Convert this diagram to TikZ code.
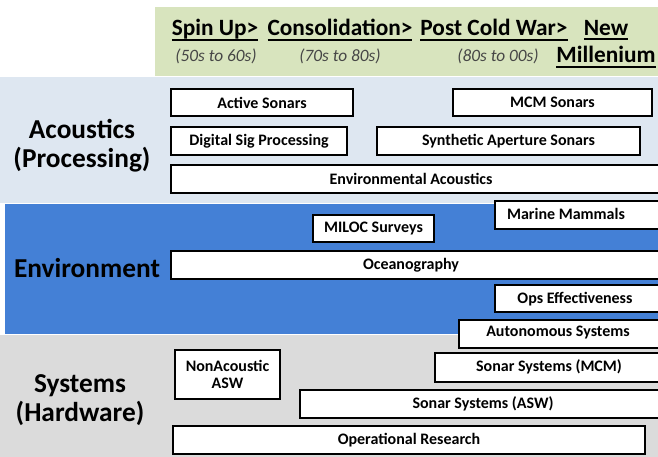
\documentclass[tikz,border=0pt]{standalone}
\usepackage{fontspec}
\setmainfont{Carlito}
\usetikzlibrary{fit}

\definecolor{headgreen}{RGB}{216,228,190}
\definecolor{acoband}{RGB}{222,231,241}
\definecolor{envband}{RGB}{68,128,214}
\definecolor{sysband}{RGB}{219,219,219}
\definecolor{subgray}{RGB}{70,70,70}

\newcommand{\ulbox}[1]{\setbox0\hbox{#1}\rlap{\copy0}\rule[-3.6pt]{\wd0}{1.4pt}}

\tikzset{every picture/.style={line width=0.75pt},
  tbox/.style={draw=black, line width=1.2pt, fill=white, inner sep=0pt},
  tlbl/.style={font=\bfseries\fontsize{12}{13}\selectfont, align=center, inner sep=0pt},
  era/.style={font=\bfseries\fontsize{17.5}{20}\selectfont},
  eradate/.style={font=\itshape\fontsize{13}{15}\selectfont, text=subgray},
  band/.style={font=\bfseries\fontsize{20.5}{22}\selectfont, align=center}}

\begin{document}
\begin{tikzpicture}[x=0.75pt,y=0.75pt,yscale=-1,xscale=1]
\useasboundingbox (0,0) rectangle (658,457);
\clip (0,0) rectangle (658,457);

%Bands
\fill[headgreen] (155,7) rectangle (658,76);
\fill[acoband] (0,77) rectangle (658,203);
\fill[envband] (5,204) rectangle (658,334);
\fill[sysband] (0,335) rectangle (658,457);

% Eras
\node[era] (spin) at (215,30) {\ulbox{Spin Up>}};
\node[era] (cons) at (340,30) {\ulbox{Consolidation>}};
\node[era] (post) at (494,30) {\ulbox{Post Cold War>}};
\node[era] (new) at (606,30) {\ulbox{New}};
\node[era] (mill) at (606,57) {\ulbox{Millenium}};
\node[eradate] (spind) at (216,56) {(50s to 60s)};
\node[eradate] (consd) at (340,56) {(70s to 80s)};
\node[eradate] (postd) at (498,56) {(80s to 00s)};

% Band labels
\node[band] (aco) at (82,146) {Acoustics\\(Processing)};
\node[band] (env) at (87,268) {Environment};
\node[band] (sys) at (80,400) {Systems\\(Hardware)};

%Acoustics boxes
\node[tbox, fit={(171,89) (353,116)}, label={[tlbl]center:Active Sonars}] (actsonar) {};
\node[tbox, fit={(453,89) (652,116)}, label={[tlbl]center:MCM Sonars}] (mcmsonar) {};
\node[tbox, fit={(171,127) (347,155)}, label={[tlbl]center:Digital Sig Processing}] (dsp) {};
\node[tbox, fit={(377,127) (640,155)}, label={[tlbl]center:Synthetic Aperture Sonars}] (sas) {};
\node[tbox, fit={(171,165) (662,193)}] (envaco) {};
\node[tlbl] (envacot) at (411,179) {Environmental Acoustics};

%Environment boxes
\node[tbox, fit={(495,201) (662,229)}] (mammals) {};
\node[tlbl] (mammalst) at (566,214) {Marine Mammals};
\node[tbox, fit={(313,215) (434,242)}, label={[tlbl]center:MILOC Surveys}] (miloc) {};
\node[tbox, fit={(171,251) (662,279)}] (ocean) {};
\node[tlbl] (oceant) at (411,265) {Oceanography};
\node[tbox, fit={(495,285) (662,312)}] (opseff) {};
\node[tlbl] (opsefft) at (575,299) {Ops Effectiveness};
\node[tbox, fit={(459,320) (662,348)}] (auto) {};
\node[tlbl] (autot) at (558,333) {Autonomous Systems};

%Systems boxes
\node[tbox, fit={(175,350) (280,399)}, label={[tlbl]center:NonAcoustic\\ASW}] (nonaco) {};
\node[tbox, fit={(435,353) (662,382)}] (sonmcm) {};
\node[tlbl] (sonmcmt) at (549,367) {Sonar Systems (MCM)};
\node[tbox, fit={(300,390) (662,418)}] (sonasw) {};
\node[tlbl] (sonaswt) at (483,404) {Sonar Systems (ASW)};
\node[tbox, fit={(173,426) (645,454)}, label={[tlbl]center:Operational Research}] (opres) {};

\end{tikzpicture}
\end{document}
